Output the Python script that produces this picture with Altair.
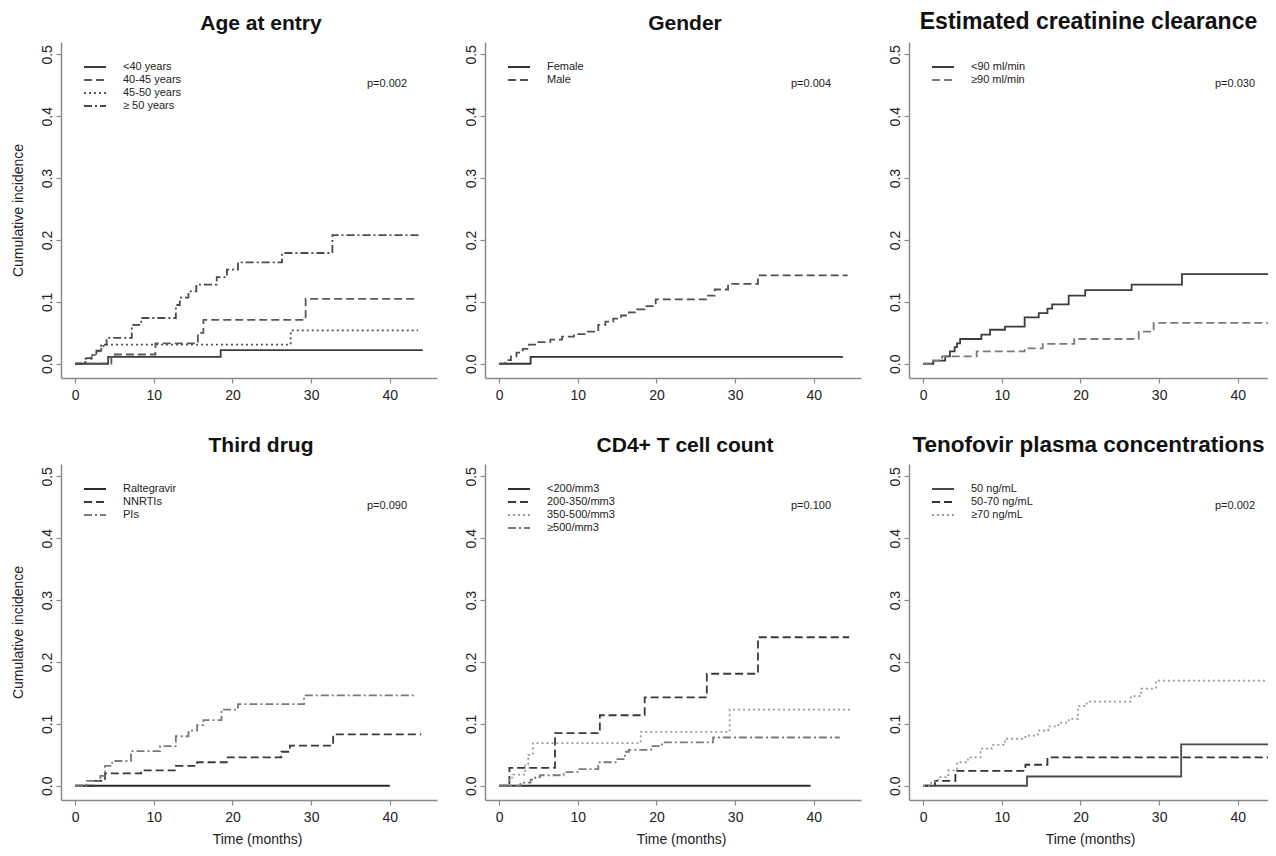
import altair as alt
import pandas as pd

# ---------------- panel texts ----------------
titles = ["Age at entry", "Gender", "Estimated creatinine clearance",
          "Third drug", "CD4+ T cell count", "Tenofovir plasma concentrations"]
pvalues = ["p=0.002", "p=0.004", "p=0.030", "p=0.090", "p=0.100", "p=0.002"]
x_ticks = [0, 10, 20, 30, 40]
y_ticks = [0.0, 0.1, 0.2, 0.3, 0.4, 0.5]

# ---------------- Age at entry ----------------
age_groups = ["<40 years", "40-45 years", "45-50 years", "≥ 50 years"]
age_lt40_t = [0, 4.2, 18.5, 44.2]
age_lt40_y = [0, 0.011, 0.022, 0.022]
age_4045_t = [0, 4.6, 10.2, 15.6, 16.3, 29.3, 43.6]
age_4045_y = [0, 0.015, 0.033, 0.05, 0.071, 0.105, 0.105]
age_4550_t = [0, 1.3, 2.2, 3.0, 3.6, 27.4, 43.6]
age_4550_y = [0, 0.008, 0.016, 0.024, 0.031, 0.054, 0.054]
age_ge50_t = [0, 1.3, 2.1, 2.7, 3.3, 4.0, 7.2, 8.4, 12.8, 13.3, 14.4, 15.4,
              18.0, 19.3, 20.7, 26.3, 32.7, 44.0]
age_ge50_y = [0, 0.009, 0.014, 0.021, 0.031, 0.042, 0.063, 0.074, 0.095, 0.107,
              0.117, 0.128, 0.14, 0.152, 0.164, 0.179, 0.208, 0.208]

# ---------------- Gender ----------------
gender_groups = ["Female", "Male"]
female_t = [0, 4.0, 43.7]
female_y = [0, 0.011, 0.011]
male_t = [0, 0.8, 1.5, 2.2, 3.0, 3.8, 5.0, 6.5, 8.0, 9.5, 11.0, 12.6, 13.5, 14.5,
          15.5, 16.5, 17.5, 18.5, 19.9, 26.3, 27.4, 29.1, 32.9, 44.3]
male_y = [0, 0.006, 0.012, 0.018, 0.024, 0.031, 0.035, 0.039, 0.044, 0.048, 0.052,
          0.063, 0.068, 0.073, 0.078, 0.083, 0.088, 0.093, 0.104, 0.11, 0.12,
          0.129, 0.143, 0.143]

# ---------------- Estimated creatinine clearance ----------------
crcl_groups = ["<90 ml/min", "≥90 ml/min"]
crcl_lt90_t = [0, 1.3, 2.8, 3.4, 4.0, 4.3, 4.7, 7.4, 8.5, 10.4, 12.9, 14.7, 15.8,
               16.4, 18.5, 20.6, 26.5, 32.9, 44.4]
crcl_lt90_y = [0, 0.005, 0.012, 0.02, 0.027, 0.033, 0.04, 0.047, 0.055, 0.06,
               0.075, 0.082, 0.089, 0.096, 0.11, 0.119, 0.128, 0.145, 0.145]
crcl_ge90_t = [0, 1.0, 2.4, 6.8, 12.9, 15.2, 19.2, 27.4, 29.3, 44.0]
crcl_ge90_y = [0, 0.005, 0.012, 0.02, 0.025, 0.032, 0.04, 0.052, 0.066, 0.066]

# ---------------- Third drug ----------------
drug_groups = ["Raltegravir", "NNRTIs", "PIs"]
ralt_t = [0, 40.0]
ralt_y = [0, 0]
nnrti_t = [0, 2.5, 3.8, 8.4, 12.8, 15.5, 19.4, 26.2, 27.3, 32.8, 44.0]
nnrti_y = [0, 0.008, 0.02, 0.025, 0.032, 0.038, 0.046, 0.055, 0.065, 0.083, 0.083]
pis_t = [0, 1.4, 3.2, 3.8, 4.7, 7.1, 10.8, 12.8, 14.4, 15.5, 16.3, 18.6, 20.7, 29.1, 43.3]
pis_y = [0, 0.008, 0.016, 0.032, 0.04, 0.056, 0.064, 0.08, 0.089, 0.098, 0.106,
         0.123, 0.132, 0.146, 0.146]

# ---------------- CD4+ T cell count ----------------
cd4_groups = ["<200/mm3", "200-350/mm3", "350-500/mm3", "≥500/mm3"]
cd4_lt200_t = [0, 39.6]
cd4_lt200_y = [0, 0]
cd4_200_t = [0, 1.3, 7.1, 12.8, 18.5, 26.4, 32.9, 44.5]
cd4_200_y = [0, 0.029, 0.085, 0.114, 0.143, 0.181, 0.24, 0.24]
cd4_350_t = [0, 1.3, 1.8, 3.3, 3.7, 4.3, 18.0, 29.3, 44.6]
cd4_350_y = [0, 0.013, 0.018, 0.033, 0.05, 0.069, 0.087, 0.123, 0.123]
cd4_500_t = [0, 2.7, 4.0, 4.6, 5.2, 8.2, 10.2, 12.6, 14.8, 16.0, 16.5, 19.3, 20.7, 27.2, 43.3]
cd4_500_y = [0, 0.005, 0.01, 0.014, 0.017, 0.022, 0.027, 0.038, 0.043, 0.055,
             0.058, 0.064, 0.07, 0.078, 0.078]

# ---------------- Tenofovir plasma concentrations ----------------
teno_groups = ["50 ng/mL", "50-70 ng/mL", "≥70 ng/mL"]
teno_50_t = [0, 13.2, 32.8, 44.5]
teno_50_y = [0, 0.015, 0.067, 0.067]
teno_5070_t = [0, 1.5, 4.1, 13.0, 15.8, 44.5]
teno_5070_y = [0, 0.008, 0.024, 0.034, 0.046, 0.046]
teno_70_t = [0, 1.0, 1.9, 3.2, 4.3, 5.7, 7.3, 8.7, 10.4, 13.0, 14.6, 15.9, 17.2,
             18.5, 19.7, 20.8, 26.4, 27.7, 29.6, 44.2]
teno_70_y = [0, 0.007, 0.014, 0.025, 0.038, 0.046, 0.06, 0.066, 0.076, 0.081,
             0.089, 0.096, 0.102, 0.108, 0.129, 0.136, 0.145, 0.157, 0.17, 0.17]

# ---------------- styles ----------------
SOLID = [1, 0]
DASH = [8, 4]
DOT = [2, 3]
DASHDOT = [8, 3, 2, 3]

FONT = "Liberation Sans"
PLOT_H = 336
PLOT_W = 376
PLOT_W_RIGHT = 359
TITLE_SIZES = [21, 21, 23, 21, 21, 22.5]


def make_df(groups, times, values):
    rows = []
    for g, ts, ys in zip(groups, times, values):
        for t, y in zip(ts, ys):
            rows.append({"group": g, "t": t, "y": y})
    return pd.DataFrame(rows)


def panel(idx, groups, times, values, colors, dashes, width, left, bottom):
    df = make_df(groups, times, values)
    xmax = -1.8 + width * (47.8 / PLOT_W)
    full = width == PLOT_W
    legend = alt.Legend(
        title=None, orient="none", legendX=28, legendY=19, padding=0,
        symbolType="M-2.2,0H2.2", symbolSize=100, symbolStrokeWidth=1.8,
        labelFont=FONT, labelFontSize=11, labelColor="#222222",
        labelOffset=22, rowPadding=2,
    )
    x = alt.X(
        "t:Q",
        scale=alt.Scale(domain=[-1.8, xmax], nice=False, zero=False),
        axis=alt.Axis(values=x_ticks, format="d",
                      title="Time (months)" if bottom else None,
                      titleX=196 if full else 181),
    )
    y = alt.Y(
        "y:Q",
        scale=alt.Scale(domain=[-0.023, 0.52], nice=False, zero=False),
        axis=alt.Axis(values=y_ticks, format=".1f", labelAngle=270,
                      title="Cumulative incidence" if left else None),
    )
    lines = alt.Chart(df).mark_line(
        interpolate="step-after", strokeWidth=1.8, clip=True
    ).encode(
        x=x, y=y,
        color=alt.Color("group:N", scale=alt.Scale(domain=groups, range=colors), legend=legend),
        strokeDash=alt.StrokeDash("group:N", scale=alt.Scale(domain=groups, range=dashes), legend=legend),
    )
    ptext = alt.Chart(pd.DataFrame({"p": [pvalues[idx]]})).mark_text(
        font=FONT, fontSize=11, align="center", baseline="middle", color="#222222"
    ).encode(x=alt.value(326), y=alt.value(42), text="p:N")
    return alt.layer(lines, ptext).properties(
        width=width, height=PLOT_H,
        title=alt.TitleParams(titles[idx], font=FONT, fontSize=TITLE_SIZES[idx],
                              fontWeight="bold", color="#111111", offset=8,
                              dx=12 if full else 0),
    )


panels = [
    panel(0, age_groups, [age_lt40_t, age_4045_t, age_4550_t, age_ge50_t],
          [age_lt40_y, age_4045_y, age_4550_y, age_ge50_y],
          ["#3c3c3c", "#5a5a5a", "#555555", "#4a4a4a"], [SOLID, DASH, DOT, DASHDOT],
          PLOT_W, True, False),
    panel(1, gender_groups, [female_t, male_t], [female_y, male_y],
          ["#333333", "#505050"], [SOLID, DASH], PLOT_W, False, False),
    panel(2, crcl_groups, [crcl_lt90_t, crcl_ge90_t], [crcl_lt90_y, crcl_ge90_y],
          ["#3c3c3c", "#7a7a7a"], [SOLID, DASH], PLOT_W_RIGHT, False, False),
    panel(3, drug_groups, [ralt_t, nnrti_t, pis_t], [ralt_y, nnrti_y, pis_y],
          ["#2a2a2a", "#3a3a3a", "#7a7a7a"], [SOLID, DASH, DASHDOT], PLOT_W, True, True),
    panel(4, cd4_groups, [cd4_lt200_t, cd4_200_t, cd4_350_t, cd4_500_t],
          [cd4_lt200_y, cd4_200_y, cd4_350_y, cd4_500_y],
          ["#2f2f2f", "#3a3a3a", "#9a9a9a", "#7a7a7a"], [SOLID, DASH, DOT, DASHDOT],
          PLOT_W, False, True),
    panel(5, teno_groups, [teno_50_t, teno_5070_t, teno_70_t], [teno_50_y, teno_5070_y, teno_70_y],
          ["#4a4a4a", "#333333", "#9a9a9a"], [SOLID, DASH, DOT], PLOT_W_RIGHT, False, True),
]

chart = alt.concat(
    *panels, columns=3, spacing={"row": 86, "column": 48}, bounds="flush"
).resolve_scale(
    x="independent", color="independent", strokeDash="independent"
).resolve_legend(
    color="independent", strokeDash="independent"
).properties(
    padding={"left": 3, "top": 3, "right": 0, "bottom": 2}, background="white"
).configure_view(
    stroke=None
).configure_axis(
    grid=False, domainColor="#8a8a8a", domainWidth=1.5, tickColor="#8a8a8a",
    tickSize=5, tickWidth=1.2, labelFont=FONT, labelFontSize=14, labelColor="#222222",
    titleFont=FONT, titleFontSize=14, titleFontWeight="normal", titleColor="#222222",
).configure_axisY(
    labelPadding=2, titlePadding=15,
).configure_axisX(
    labelPadding=5, titlePadding=8,
)

chart.save("out.html", embed_options={"renderer": "svg", "actions": False})
